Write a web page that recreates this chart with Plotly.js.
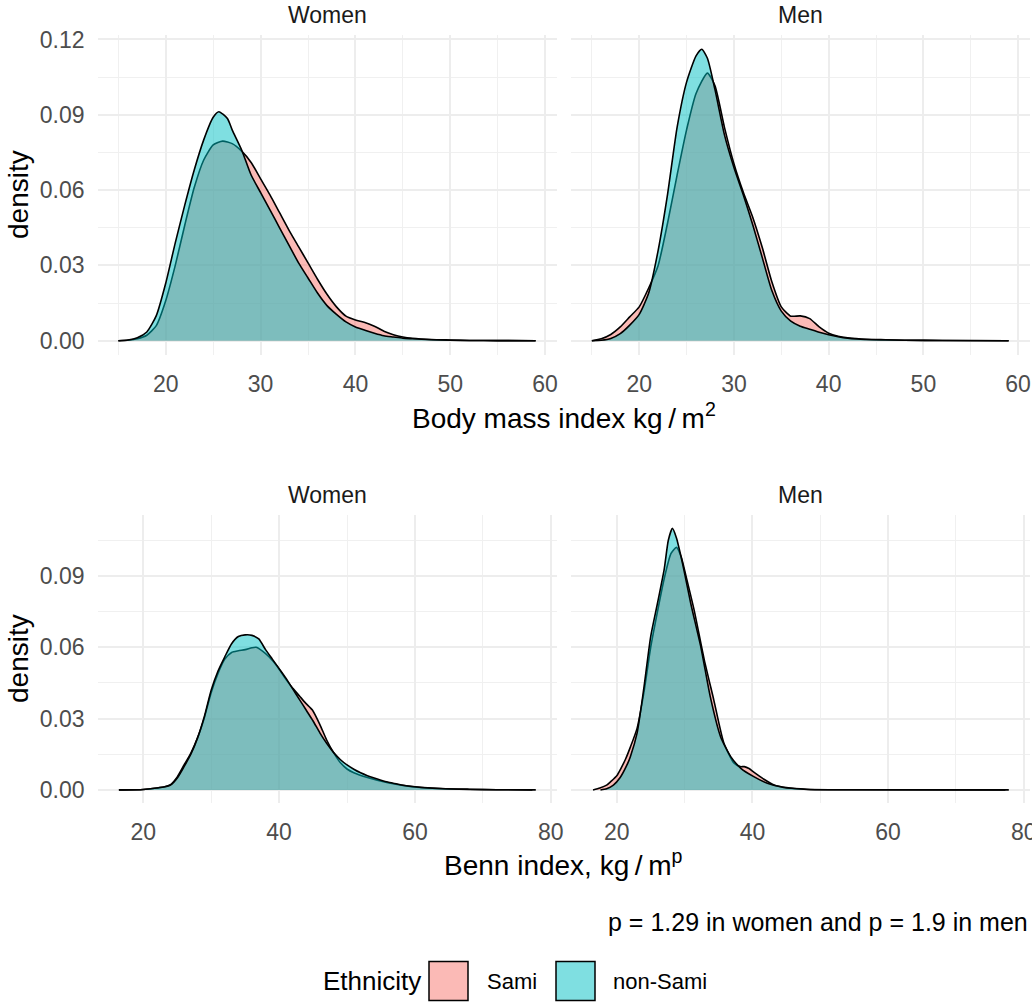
<!DOCTYPE html>
<html>
<head>
<meta charset="utf-8">
<script src="https://cdn.plot.ly/plotly-3.0.1.min.js"></script>
<style>
  html, body { margin: 0; padding: 0; background: #ffffff; }
  #chart { width: 1032px; height: 1004px; }
</style>
</head>
<body>
<div id="chart"></div>
<script>
// ---- Density estimates: body mass index (kg/m^2) ----
const bmiWomenSamiX = [15, 16, 17, 18, 19, 20, 21, 22, 23, 24, 25, 26, 27, 28, 29, 30, 31, 32, 33, 34, 35, 36, 37, 38, 39, 40, 41, 42, 43, 44, 45, 46, 48, 50, 52, 55, 59];
const bmiWomenSamiY = [0, 0.0002, 0.0008, 0.0022, 0.006, 0.016, 0.030, 0.046, 0.061, 0.072, 0.078, 0.0795, 0.0785, 0.0755, 0.071, 0.0645, 0.058, 0.051, 0.044, 0.0375, 0.031, 0.0245, 0.0185, 0.0135, 0.0098, 0.0083, 0.0073, 0.0058, 0.0038, 0.0024, 0.0015, 0.001, 0.0005, 0.0003, 0.0001, 0.00005, 0];
const bmiWomenNonSamiX = [15, 16, 17, 18, 19, 20, 21, 22, 23, 24, 25, 25.6, 26.5, 27, 28, 29, 30, 31, 32, 33, 34, 35, 36, 37, 38, 39, 40, 41, 42, 43, 44, 45, 46, 47, 48, 50, 52, 55, 59];
const bmiWomenNonSamiY = [0, 0.0003, 0.0012, 0.0035, 0.010, 0.023, 0.039, 0.054, 0.068, 0.080, 0.089, 0.0912, 0.0885, 0.084, 0.076, 0.066, 0.059, 0.052, 0.045, 0.038, 0.031, 0.025, 0.019, 0.014, 0.0105, 0.0075, 0.0055, 0.0042, 0.003, 0.002, 0.0015, 0.001, 0.0008, 0.0006, 0.0004, 0.0002, 0.0001, 0.00005, 0];

const bmiMenSamiX = [15, 16, 17, 18, 19, 20, 21, 22, 23, 24, 25, 26, 27.2, 28, 29, 30, 31, 32, 33, 34, 35, 36, 37, 38, 39, 40, 41, 42, 44, 46, 48, 52, 59];
const bmiMenSamiY = [0, 0.0008, 0.0025, 0.0055, 0.0095, 0.0135, 0.021, 0.030, 0.047, 0.066, 0.084, 0.0985, 0.1066, 0.1015, 0.085, 0.0705, 0.059, 0.049, 0.037, 0.0235, 0.0135, 0.0098, 0.0099, 0.0088, 0.0055, 0.003, 0.0018, 0.0012, 0.0006, 0.0004, 0.0002, 0.0001, 0];
const bmiMenNonSamiX = [15, 16, 17, 18, 19, 20, 21, 22, 23, 24, 25, 26, 26.6, 27.2, 28, 29, 30, 31, 32, 33, 34, 35, 36, 37, 38, 39, 40, 41, 42, 43, 45, 48, 52, 59];
const bmiMenNonSamiY = [0, 0.0002, 0.0009, 0.0028, 0.0062, 0.0105, 0.019, 0.036, 0.0585, 0.085, 0.103, 0.1135, 0.1161, 0.1125, 0.100, 0.082, 0.069, 0.058, 0.046, 0.033, 0.020, 0.0118, 0.0078, 0.0058, 0.0046, 0.0034, 0.0024, 0.0016, 0.001, 0.0007, 0.0004, 0.0002, 0.0001, 0];

// ---- Density estimates: Benn index (kg/m^p) ----
const bennWomenSamiX = [16.4, 20, 22, 23, 24, 25, 26, 27, 28, 29, 30, 31, 32, 33, 34, 35, 36, 36.6, 37.5, 38.5, 39.7, 41, 41.8, 43, 43.9, 44.9, 46, 47, 48, 49, 50, 51, 53, 56, 59.5, 64, 68, 72, 77.3];
const bennWomenSamiY = [0, 0.0002, 0.0008, 0.0012, 0.0022, 0.0055, 0.0105, 0.0155, 0.022, 0.0305, 0.041, 0.049, 0.055, 0.0578, 0.0585, 0.059, 0.0598, 0.060, 0.0585, 0.056, 0.052, 0.0465, 0.0435, 0.0395, 0.0365, 0.0336, 0.0275, 0.021, 0.0158, 0.0115, 0.0088, 0.0072, 0.0052, 0.003, 0.0014, 0.0006, 0.0003, 0.0001, 0];
const bennWomenNonSamiX = [16.4, 20, 22, 23, 24, 25, 26, 27, 28, 29, 30, 31, 32, 33, 34, 35, 36, 37, 38, 39, 40, 41, 42, 43, 44, 45, 46, 47, 48, 49, 50, 51, 52, 53, 54, 55, 56, 57, 58, 60, 62, 65, 68, 72, 77.8];
const bennWomenNonSamiY = [0, 0.0002, 0.0008, 0.0012, 0.002, 0.005, 0.0098, 0.015, 0.022, 0.031, 0.042, 0.050, 0.056, 0.0615, 0.0645, 0.0652, 0.065, 0.0635, 0.059, 0.055, 0.051, 0.047, 0.0425, 0.038, 0.0335, 0.029, 0.024, 0.0196, 0.0158, 0.0128, 0.0105, 0.0087, 0.0072, 0.006, 0.005, 0.0041, 0.0033, 0.0027, 0.0021, 0.0013, 0.0008, 0.0004, 0.0002, 0.0001, 0];

const bennMenSamiX = [16.5, 17.5, 18.5, 19.1, 20, 20.6, 21.3, 22, 23, 24, 25, 26, 27, 28, 28.8, 29.5, 30.2, 31.4, 32.9, 34.3, 35.8, 37.3, 38.2, 38.8, 39.5, 40.2, 41.7, 43.2, 45, 48, 52, 77.3];
const bennMenSamiY = [0, 0.0008, 0.002, 0.0035, 0.006, 0.009, 0.013, 0.018, 0.026, 0.041, 0.060, 0.075, 0.089, 0.0995, 0.102, 0.098, 0.090, 0.0757, 0.0547, 0.0379, 0.0196, 0.0112, 0.0098, 0.0098, 0.009, 0.0075, 0.0045, 0.0021, 0.001, 0.0003, 0.0001, 0];
const bennMenNonSamiX = [17.6, 18.5, 19.5, 20.5, 21.5, 22, 23, 24, 25, 26, 27, 27.6, 28.2, 28.8, 29.4, 29.9, 30.9, 32.4, 33.8, 35.3, 36.8, 38.3, 40.2, 42.2, 44.6, 47.6, 50, 55, 77.8];
const bennMenNonSamiY = [0, 0.0005, 0.002, 0.0052, 0.0105, 0.014, 0.024, 0.043, 0.0645, 0.0785, 0.093, 0.105, 0.110, 0.106, 0.099, 0.0925, 0.0785, 0.060, 0.039, 0.0224, 0.014, 0.0091, 0.0056, 0.0028, 0.001, 0.0003, 0.0001, 0.00005, 0];

// ---- Labels ----
const groupNames = ['Sami', 'non-Sami'];
const panelTitles = ['Women', 'Men'];
const bmiTitle = 'Body mass index kg\u2009/\u2009m<sup>2</sup>';
const bennTitle = 'Benn index, kg\u2009/\u2009m<sup>p</sup>';
const bennNote = 'p = 1.29 in women and p = 1.9 in men';
const legendTitle = 'Ethnicity';

// ---- Styling ----
const FONT = 'Liberation Sans, Arial, Helvetica, sans-serif';
const FILLS = ['rgba(248,118,109,0.5)', 'rgba(0,191,196,0.5)'];
const GRID = '#ededed';
const GRID_MINOR = '#f0f0f0';
const TICK_FONT = { family: FONT, size: 23, color: '#4d4d4d' };

const W = 1032, H = 1004;
const px = v => v / W;
const py = v => 1 - v / H;

const xLeft = [px(97.5), px(556.5)];
const xRight = [px(571), px(1029.5)];
const yTop = [py(355.3), py(34.7)];
const yBottom = [py(803), py(515.3)];

function densityTrace(x, y, group, xa, ya) {
  return {
    type: 'scatter', mode: 'lines', x: x, y: y,
    xaxis: xa, yaxis: ya,
    fill: 'tozeroy', fillcolor: FILLS[group],
    line: { color: '#000000', width: 1.6, shape: 'spline', smoothing: 0.6 },
    name: groupNames[group], showlegend: false, hoverinfo: 'skip'
  };
}

const traces = [
  densityTrace(bmiWomenSamiX, bmiWomenSamiY, 0, 'x', 'y'),
  densityTrace(bmiWomenNonSamiX, bmiWomenNonSamiY, 1, 'x', 'y'),
  densityTrace(bmiMenSamiX, bmiMenSamiY, 0, 'x2', 'y2'),
  densityTrace(bmiMenNonSamiX, bmiMenNonSamiY, 1, 'x2', 'y2'),
  densityTrace(bennWomenSamiX, bennWomenSamiY, 0, 'x3', 'y3'),
  densityTrace(bennWomenNonSamiX, bennWomenNonSamiY, 1, 'x3', 'y3'),
  densityTrace(bennMenSamiX, bennMenSamiY, 0, 'x4', 'y4'),
  densityTrace(bennMenNonSamiX, bennMenNonSamiY, 1, 'x4', 'y4')
];

function xAxis(domain, range, dtick, minorDtick, anchor) {
  return {
    domain: domain, range: range, anchor: anchor,
    tickmode: 'linear', tick0: 0, dtick: dtick,
    ticks: '', ticklabelstandoff: 13, ticklabeloverflow: 'allow',
    showline: false, zeroline: false,
    showgrid: true, gridcolor: GRID, gridwidth: 2,
    minor: { tick0: 0, dtick: minorDtick, showgrid: true, gridcolor: GRID_MINOR, gridwidth: 1, ticks: '' },
    tickfont: TICK_FONT, fixedrange: true
  };
}
function yAxis(domain, range, anchor, labels) {
  return {
    domain: domain, range: range, anchor: anchor,
    tickmode: 'linear', tick0: 0, dtick: 0.03, tickformat: '.2f',
    showticklabels: labels, ticks: '', ticklabelstandoff: 12,
    showline: false, zeroline: false,
    showgrid: true, gridcolor: GRID, gridwidth: 2,
    minor: { tick0: 0, dtick: 0.015, showgrid: true, gridcolor: GRID_MINOR, gridwidth: 1, ticks: '' },
    tickfont: TICK_FONT, fixedrange: true
  };
}

const bmiRange = [12.8, 61.2];
const bennRange = [13.25, 80.85];
const yTopRange = [-0.0058, 0.1219];
const yBottomRange = [-0.0055, 0.1155];

function label(text, x, y, size, color, extra) {
  return Object.assign({
    text: text, x: x, y: y, xref: 'paper', yref: 'paper',
    xanchor: 'center', yanchor: 'middle', showarrow: false,
    font: { family: FONT, size: size, color: color }
  }, extra || {});
}

// legend row (centre line, pixels from the top)
const legendY = 981;
const annotations = [
  label(panelTitles[0], (xLeft[0] + xLeft[1]) / 2, py(15), 23, '#1a1a1a'),
  label(panelTitles[1], (xRight[0] + xRight[1]) / 2, py(15), 23, '#1a1a1a'),
  label(panelTitles[0], (xLeft[0] + xLeft[1]) / 2, py(495), 23, '#1a1a1a'),
  label(panelTitles[1], (xRight[0] + xRight[1]) / 2, py(495), 23, '#1a1a1a'),
  label('density', px(18), py(195), 28, '#000000', { textangle: -90 }),
  label('density', px(18), py(659), 28, '#000000', { textangle: -90 }),
  label(bmiTitle, px(563.5), py(416), 28, '#000000'),
  label(bennTitle, px(563.5), py(863), 28, '#000000'),
  label(bennNote, px(1030), py(922), 25, '#000000', { xanchor: 'right' }),
  label(legendTitle, px(321), py(legendY), 26, '#000000', { xanchor: 'left' }),
  label(groupNames[0], px(485), py(legendY), 22, '#000000', { xanchor: 'left' }),
  label(groupNames[1], px(611), py(legendY), 22, '#000000', { xanchor: 'left' })
];

const shapes = [
  { type: 'rect', xref: 'paper', yref: 'paper', x0: px(429), x1: px(468), y0: py(legendY + 19.5), y1: py(legendY - 19.5),
    fillcolor: FILLS[0], line: { color: '#000000', width: 1.5 } },
  { type: 'rect', xref: 'paper', yref: 'paper', x0: px(556), x1: px(595), y0: py(legendY + 19.5), y1: py(legendY - 19.5),
    fillcolor: FILLS[1], line: { color: '#000000', width: 1.5 } }
];

const layout = {
  width: W, height: H,
  margin: { l: 0, r: 0, t: 0, b: 0 },
  paper_bgcolor: '#ffffff', plot_bgcolor: '#ffffff',
  showlegend: false,
  font: { family: FONT },
  xaxis: xAxis(xLeft, bmiRange, 10, 5, 'y'),
  xaxis2: xAxis(xRight, bmiRange, 10, 5, 'y2'),
  xaxis3: xAxis(xLeft, bennRange, 20, 10, 'y3'),
  xaxis4: xAxis(xRight, bennRange, 20, 10, 'y4'),
  yaxis: yAxis(yTop, yTopRange, 'x', true),
  yaxis2: yAxis(yTop, yTopRange, 'x2', false),
  yaxis3: yAxis(yBottom, yBottomRange, 'x3', true),
  yaxis4: yAxis(yBottom, yBottomRange, 'x4', false),
  annotations: annotations,
  shapes: shapes
};

Plotly.newPlot('chart', traces, layout, { staticPlot: true, displayModeBar: false });
</script>
</body>
</html>
